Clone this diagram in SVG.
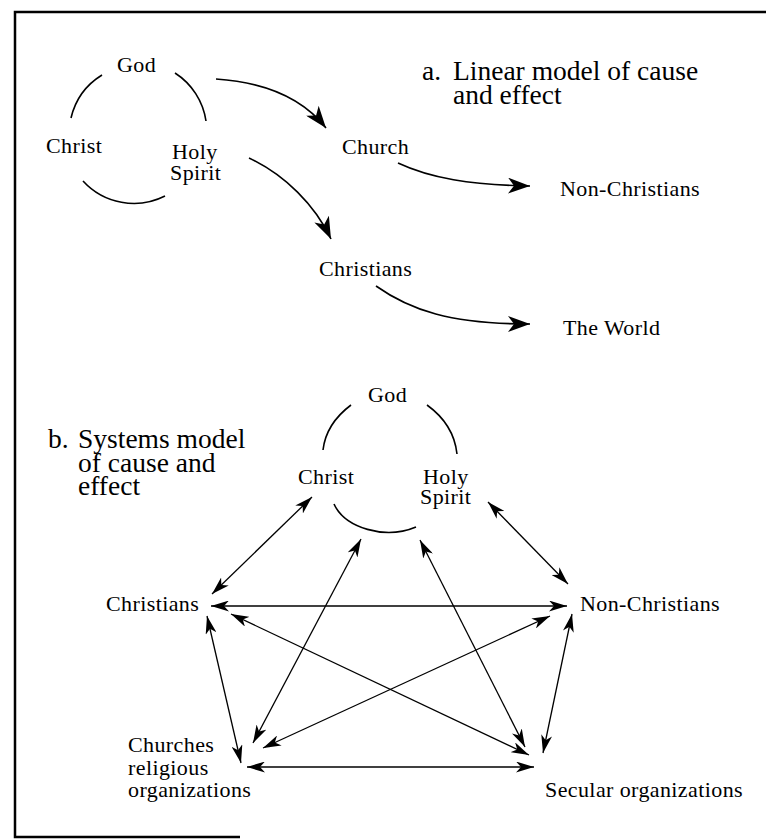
<svg xmlns="http://www.w3.org/2000/svg" width="766" height="839" viewBox="0 0 766 839">
<style>
text{font-family:"Liberation Serif","Times New Roman",serif;font-size:22px;fill:#000;letter-spacing:0.4px}
.title{font-size:27.5px;letter-spacing:0}
.arc{fill:none;stroke:#000;stroke-width:1.6}
.ca{fill:none;stroke:#000;stroke-width:1.6;marker-end:url(#ah)}
.cb{fill:none;stroke:#000;stroke-width:1.3;marker-start:url(#bh);marker-end:url(#bh)}
</style>
<defs>
<marker id="ah" viewBox="0 0 22 16" refX="22" refY="8" markerWidth="22" markerHeight="16" markerUnits="userSpaceOnUse" orient="auto">
<path d="M0,0 L22,8 L0,16 L6,8 Z" fill="#000"/>
</marker>
<marker id="bh" viewBox="0 0 18 11" refX="18" refY="5.5" markerWidth="18" markerHeight="11" markerUnits="userSpaceOnUse" orient="auto-start-reverse">
<path d="M0,0 L18,5.5 L0,11 L5,5.5 Z" fill="#000"/>
</marker>
</defs>
<rect width="766" height="839" fill="#fff"/>
<path d="M766,12 L15,12 L15,837 L240,837" fill="none" stroke="#000" stroke-width="2.5"/>

<g id="title-a">
<text class="title"><tspan x="422" y="80">a.</tspan><tspan x="453" y="80">Linear model of cause</tspan><tspan x="453" y="104">and effect</tspan></text>
</g>
<g id="title-b">
<text class="title"><tspan x="48" y="448">b.</tspan><tspan x="78" y="448">Systems model</tspan><tspan x="78" y="472">of cause and</tspan><tspan x="78" y="495">effect</tspan></text>
</g>

<g id="a-trinity">
<path class="arc" d="M102,75 A69,69 0 0 0 71,118"/>
<path class="arc" d="M175,73 A69,69 0 0 1 206,121"/>
<path class="arc" d="M83,181 A69,69 0 0 0 165,196"/>
</g>
<g id="a-god"><text x="117" y="72">God</text></g>
<g id="a-christ"><text x="46" y="153">Christ</text></g>
<g id="a-holyspirit"><text><tspan x="172" y="159">Holy</tspan><tspan x="170" y="180">Spirit</tspan></text></g>
<g id="a-church"><text x="342" y="154">Church</text></g>
<g id="a-nonchristians"><text x="560" y="196">Non-Christians</text></g>
<g id="a-christians"><text x="319" y="276">Christians</text></g>
<g id="a-world"><text x="563" y="335">The World</text></g>

<g id="b-trinity">
<path class="arc" d="M351,405 C335,417 325,433 323,450"/>
<path class="arc" d="M427,405 C445,418 455,435 457,454"/>
<path class="arc" d="M334,504 C345,528 385,540 416,527"/>
</g>
<g id="b-god"><text x="368" y="402">God</text></g>
<g id="b-christ"><text x="298" y="484">Christ</text></g>
<g id="b-holyspirit"><text><tspan x="423" y="484">Holy</tspan><tspan x="420" y="504">Spirit</tspan></text></g>
<g id="b-christians"><text x="106" y="611">Christians</text></g>
<g id="b-nonchristians"><text x="580" y="611">Non-Christians</text></g>
<g id="b-churches"><text><tspan x="128" y="752">Churches</tspan><tspan x="128" y="775">religious</tspan><tspan x="128" y="797">organizations</tspan></text></g>
<g id="b-secular"><text x="545" y="797">Secular organizations</text></g>

<g id="connectors">
<path class="ca" d="M216,79 C260,82 300,95 326,128"/>
<path class="ca" d="M249,158 C285,175 315,205 331,239"/>
<path class="ca" d="M398,163 C430,178 470,185 530,186"/>
<path class="ca" d="M376,286 C410,310 450,324 530,324"/>

<path class="cb" d="M312,497 L212,594"/>
<path class="cb" d="M488,502 L568,584"/>
<path class="cb" d="M211,606 L567,606"/>
<path class="cb" d="M207,616 L241,763"/>
<path class="cb" d="M572,614 L543,753"/>
<path class="cb" d="M231,614 L529,755"/>
<path class="cb" d="M550,616 L263,748"/>
<path class="cb" d="M361,539 L253,743"/>
<path class="cb" d="M420,540 L525,747"/>
<path class="cb" d="M247,767 L534,767"/>
</g>
</svg>
